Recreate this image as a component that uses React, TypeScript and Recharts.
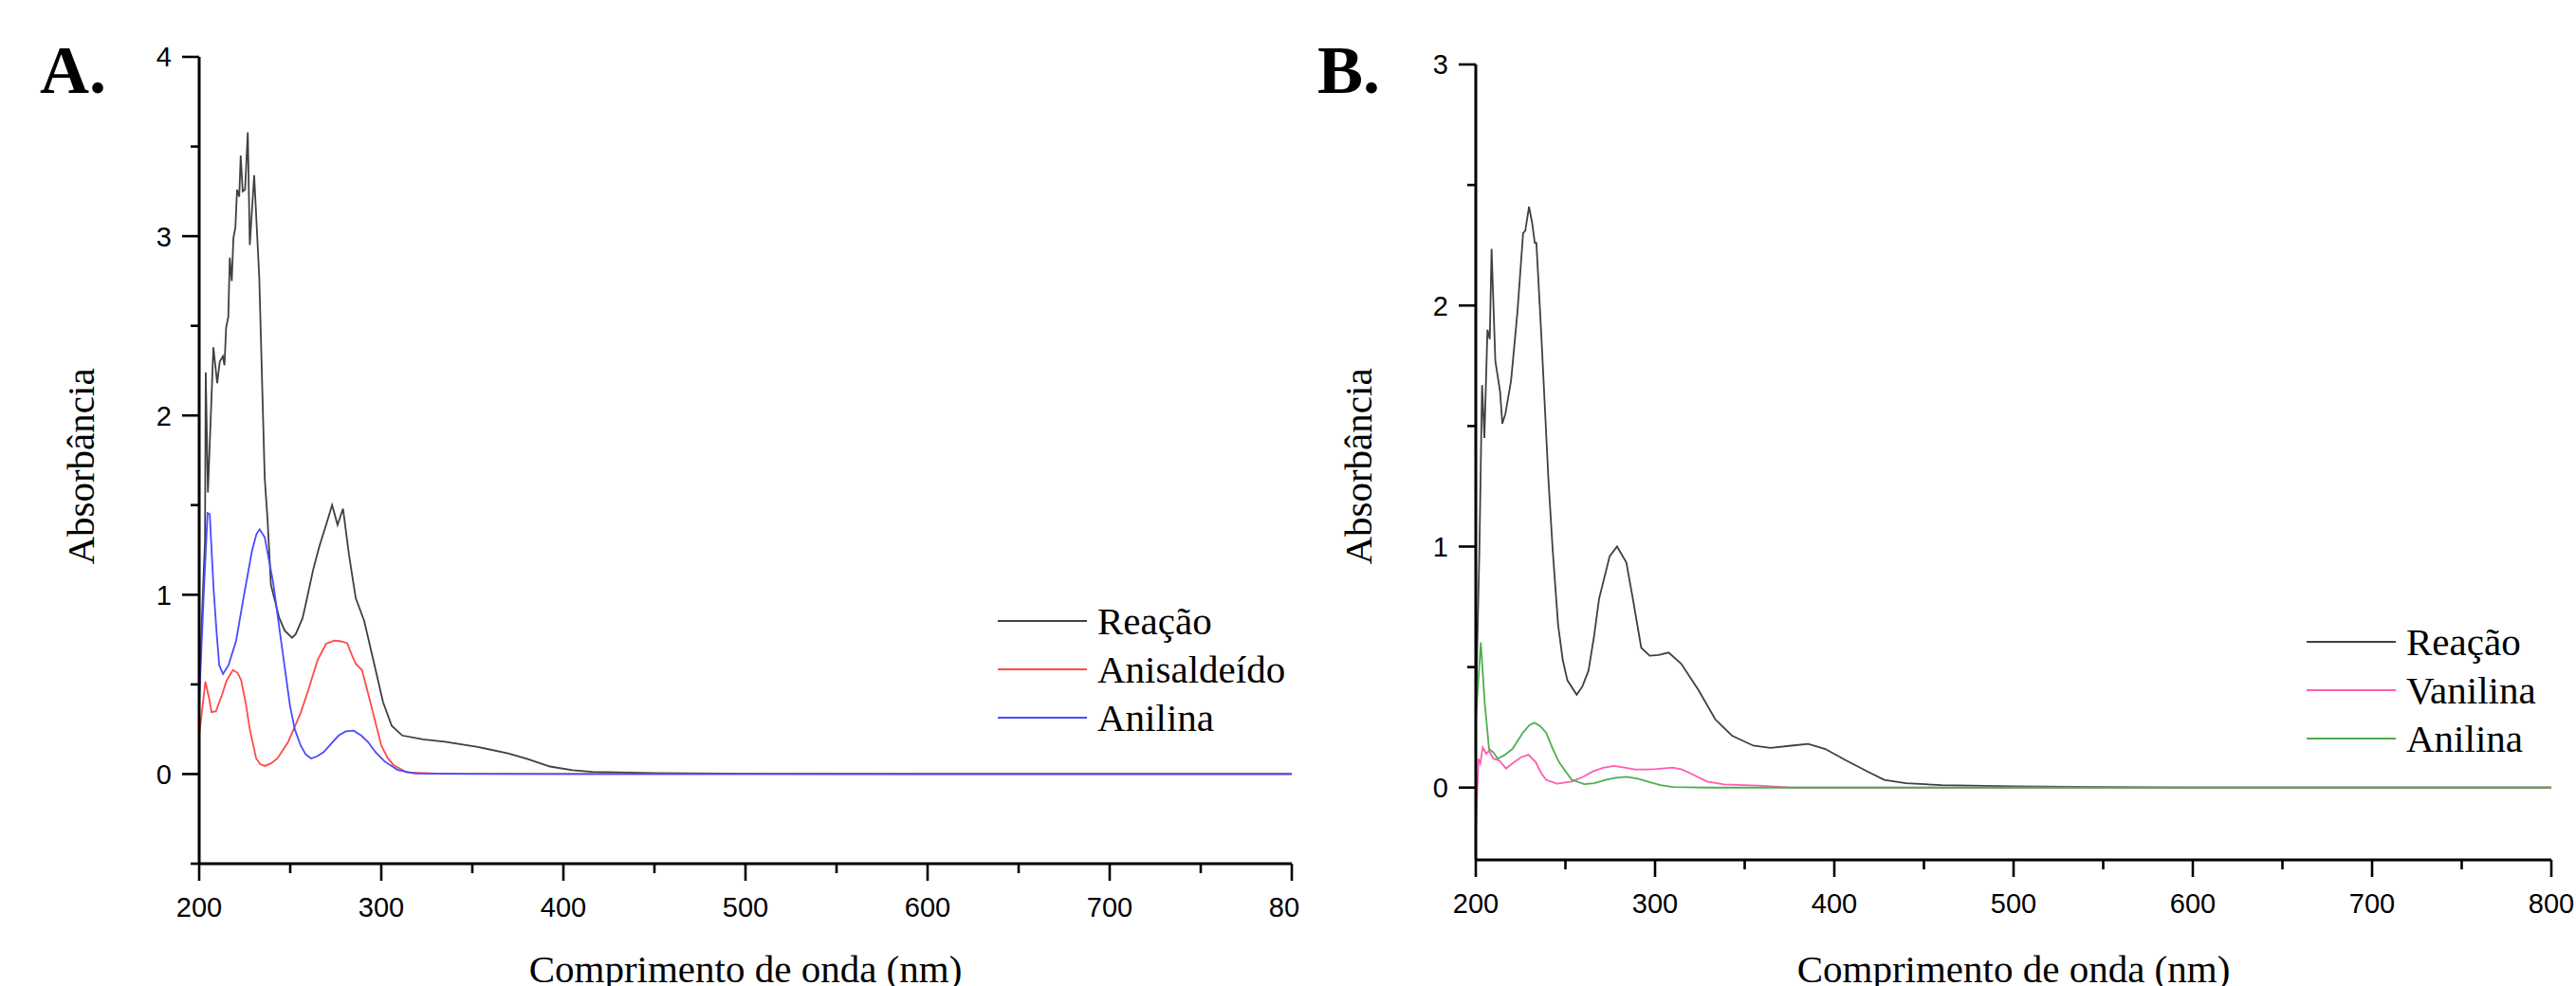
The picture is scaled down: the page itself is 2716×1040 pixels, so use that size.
import React from "react";
import { LineChart, Line, XAxis, YAxis, Legend } from "recharts";

const SANS = '"Liberation Sans", Arial, sans-serif';
const SERIF = '"Liberation Serif", "Times New Roman", serif';

// wavelength (nm), absorbance
const reacaoA: [number, number][] = [
  [200, 0.45], [202, 1.0], [203.2, 1.3], [203.6, 2.24], [204.8, 1.57], [207.8, 2.38],
  [209.9, 2.18], [211.3, 2.3], [213, 2.33], [213.9, 2.28], [214.8, 2.49], [216, 2.55],
  [216.8, 2.88], [217.9, 2.75], [218.8, 2.99], [219.9, 3.05], [220.8, 3.26], [222, 3.22],
  [222.8, 3.45], [223.9, 3.25], [225.2, 3.26], [226.7, 3.58], [227.8, 2.95], [230.2, 3.34],
  [233, 2.77], [236, 1.65], [237.6, 1.41], [239.4, 1.055], [244, 0.87], [247, 0.8],
  [251, 0.76], [253, 0.78], [256.8, 0.87], [259, 0.97], [262.6, 1.14], [266, 1.27],
  [270, 1.4], [273, 1.5], [276, 1.39], [279, 1.48], [282.3, 1.22], [286, 0.98],
  [290.6, 0.855], [295.3, 0.65], [301, 0.4], [305.7, 0.27], [311.5, 0.215], [323, 0.193],
  [335, 0.18], [353, 0.151], [369.6, 0.115], [380, 0.085], [392.7, 0.042], [405, 0.022],
  [416, 0.012], [450, 0.005], [500, 0.002], [600, 0], [700, 0], [800, 0],
];

const anisaldeidoA: [number, number][] = [
  [200, 0.215], [203.4, 0.515], [205.5, 0.42], [206.8, 0.345], [209.2, 0.35], [211, 0.4],
  [212.5, 0.44], [215, 0.52], [218.5, 0.58], [221, 0.565], [223, 0.525], [225.5, 0.4],
  [227.8, 0.25], [231.3, 0.087], [233.5, 0.055], [236, 0.045], [239.5, 0.06], [243, 0.087],
  [248.8, 0.178], [255.7, 0.34], [260, 0.47], [265, 0.635], [269.7, 0.727], [274.3, 0.745],
  [278, 0.74], [281.3, 0.73], [284, 0.66], [286, 0.615], [289.4, 0.58], [292, 0.48],
  [295, 0.36], [300, 0.16], [303.5, 0.09], [306.8, 0.05], [313.8, 0.01], [330, 0.003],
  [400, 0], [500, 0], [600, 0], [700, 0], [800, 0],
];

const anilinaA: [number, number][] = [
  [200, 0.4], [202.5, 1.0], [204.6, 1.456], [205.8, 1.45], [207.9, 1.036], [209.5, 0.8],
  [211, 0.607], [213.1, 0.558], [216.1, 0.607], [220.3, 0.744], [224.3, 0.98], [229, 1.245],
  [231.5, 1.34], [233.2, 1.365], [236, 1.32], [240.6, 1.07], [245.2, 0.726], [249.9, 0.38],
  [252.5, 0.25], [255.7, 0.16], [258.5, 0.11], [261.5, 0.087], [265, 0.1], [268.5, 0.124],
  [272.5, 0.17], [276.6, 0.215], [280.5, 0.238], [284.8, 0.242], [289, 0.215], [292.8, 0.178],
  [297, 0.12], [302, 0.069], [309, 0.023], [318.5, 0.003], [350, 0], [400, 0],
  [500, 0], [600, 0], [700, 0], [800, 0],
];

const reacaoB: [number, number][] = [
  [200, 0.3], [201, 0.65], [202, 0.98], [203.5, 1.67], [204.8, 1.45], [206.5, 1.9],
  [207.8, 1.86], [208.8, 2.235], [210.9, 1.77], [213.6, 1.64], [214.8, 1.51], [216.5, 1.55],
  [219.7, 1.69], [223.2, 1.97], [226.4, 2.3], [227.6, 2.31], [229.7, 2.41], [231.5, 2.34],
  [232.9, 2.26], [233.8, 2.26], [236.4, 1.9], [240.5, 1.28], [242.9, 0.985], [245.9, 0.676],
  [248.5, 0.53], [251.1, 0.445], [256.3, 0.385], [259.5, 0.42], [262.9, 0.486], [266, 0.63],
  [268.8, 0.784], [274.7, 0.96], [278.8, 1.0], [284, 0.934], [287.6, 0.784], [292.3, 0.58],
  [297, 0.547], [302, 0.55], [307.6, 0.56], [314.7, 0.513], [324.2, 0.405], [333.6, 0.283],
  [343, 0.215], [354.8, 0.174], [364.3, 0.165], [376, 0.174], [385.4, 0.181], [395, 0.16],
  [406.5, 0.113], [418.5, 0.067], [427.9, 0.032], [440, 0.018], [460, 0.01], [500, 0.005],
  [550, 0.002], [600, 0], [700, 0], [800, 0],
];

const vanilinaB: [number, number][] = [
  [200, -0.178], [201.5, 0.12], [202.5, 0.1], [203.9, 0.167], [205.8, 0.14], [207.4, 0.153],
  [209.8, 0.12], [213.2, 0.112], [216.9, 0.079], [220.4, 0.1], [225.2, 0.126], [229.4, 0.136],
  [233.4, 0.106], [236.5, 0.06], [239.2, 0.032], [245.3, 0.016], [253.5, 0.025], [260, 0.045],
  [265.3, 0.067], [271, 0.082], [277.1, 0.09], [283, 0.083], [288.9, 0.075], [295, 0.075],
  [300.8, 0.077], [310, 0.083], [315, 0.075], [319.5, 0.06], [329, 0.025], [338.5, 0.013],
  [357.3, 0.008], [376, 0], [400, 0], [500, 0], [600, 0], [700, 0], [800, 0],
];

const anilinaB: [number, number][] = [
  [200, 0.28], [202.8, 0.602], [205, 0.35], [207.4, 0.16], [209.8, 0.146], [212.2, 0.12],
  [215.7, 0.133], [220.4, 0.16], [226.3, 0.228], [230, 0.26], [232.7, 0.269], [236, 0.255],
  [239.2, 0.228], [243, 0.16], [246.4, 0.106], [253.5, 0.032], [260.6, 0.014], [266, 0.018],
  [272.4, 0.032], [278, 0.041], [284, 0.045], [290, 0.038], [295.9, 0.025], [303, 0.01],
  [310, 0.002], [330, 0], [400, 0], [500, 0], [600, 0], [700, 0], [800, 0],
];

const xTicks = [200, 250, 300, 350, 400, 450, 500, 550, 600, 650, 700, 750, 800];
const yTicksA = [-0.5, 0, 0.5, 1, 1.5, 2, 2.5, 3, 3.5, 4];
const yTicksB = [0, 0.5, 1, 1.5, 2, 2.5, 3];

const xTitle = "Comprimento de onda (nm)";
const yTitle = "Absorbância";

const rows = (pts: [number, number][]) => pts.map(([x, y]) => ({ x, y }));

const XTick = ({ x, y, payload }: any) => {
  const major = payload.value % 100 === 0;
  return (
    <g>
      <line x1={x} y1={y} x2={x} y2={y + (major ? 18 : 10)} stroke="#000" strokeWidth={2.6} />
      {major && (
        <text x={x} y={y + 56} textAnchor="middle" fontFamily={SANS} fontSize={29} fill="#000">
          {payload.value}
        </text>
      )}
    </g>
  );
};

const YTick = ({ x, y, payload }: any) => {
  const major = Number.isInteger(payload.value);
  return (
    <g>
      <line x1={x} y1={y} x2={x - (major ? 18 : 9)} y2={y} stroke="#000" strokeWidth={2.6} />
      {major && (
        <text x={x - 29} y={y} dy="0.36em" textAnchor="end" fontFamily={SANS} fontSize={29} fill="#000">
          {payload.value}
        </text>
      )}
    </g>
  );
};

type Series = { name: string; color: string; points: [number, number][] };

// legend keeps the series order (recharts would sort it by name)
const renderLegend = (series: Series[]) => (
  <svg width={330} height={170}>
    {series.map((s, i) => {
      const ly = 36 + i * 51;
      return (
        <g key={s.name}>
          <line x1={12} y1={ly} x2={106} y2={ly} stroke={s.color} strokeWidth={2} />
          <text x={117} y={ly + 14} fontFamily={SERIF} fontSize={41} fill="#000">
            {s.name}
          </text>
        </g>
      );
    })}
  </svg>
);

const Panel = ({
  width,
  margin,
  letter,
  letterX,
  yTitleX,
  xTitleX,
  yDomain,
  yTicks,
  series,
  legendPos,
}: {
  width: number;
  margin: { top: number; right: number; bottom: number; left: number };
  letter: string;
  letterX: number;
  yTitleX: number;
  xTitleX: number;
  yDomain: [number, number];
  yTicks: number[];
  series: Series[];
  legendPos: { left: number; top: number };
}) => (
  <LineChart width={width} height={1040} margin={margin}>
    <XAxis
      dataKey="x"
      type="number"
      domain={[200, 800]}
      ticks={xTicks}
      interval={0}
      height={60}
      tickSize={0}
      tickMargin={0}
      tickLine={false}
      axisLine={{ stroke: "#000", strokeWidth: 3 }}
      tick={(p: any) => <XTick {...p} />}
      label={{
        content: () => (
          <text x={xTitleX} y={1036} textAnchor="middle" fontFamily={SERIF} fontSize={41} fill="#000">
            {xTitle}
          </text>
        ),
      }}
    />
    <YAxis
      type="number"
      domain={yDomain}
      ticks={yTicks}
      interval={0}
      width={100}
      allowDataOverflow
      tickSize={0}
      tickMargin={0}
      tickLine={false}
      axisLine={{ stroke: "#000", strokeWidth: 3 }}
      tick={(p: any) => <YTick {...p} />}
      label={{
        content: () => (
          <g>
            <text x={letterX} y={98} fontFamily={SERIF} fontWeight="bold" fontSize={72} fill="#000">
              {letter}
            </text>
            <text
              x={yTitleX}
              y={492}
              transform={`rotate(-90 ${yTitleX} 492)`}
              textAnchor="middle"
              fontFamily={SERIF}
              fontSize={41}
              fill="#000"
            >
              {yTitle}
            </text>
          </g>
        ),
      }}
    />
    <Legend
      layout="horizontal"
      align="center"
      verticalAlign="middle"
      content={() => renderLegend(series)}
      wrapperStyle={{ left: legendPos.left, top: legendPos.top, width: 330, height: 170 }}
    />
    {series.map((s) => (
      <Line
        key={s.name}
        name={s.name}
        data={rows(s.points)}
        dataKey="y"
        type="linear"
        stroke={s.color}
        strokeWidth={1.8}
        dot={false}
        activeDot={false}
        isAnimationActive={false}
      />
    ))}
  </LineChart>
);

export default function App() {
  return (
    <div
      style={{
        position: "absolute",
        left: 0,
        top: 0,
        width: 2716,
        height: 1040,
        overflow: "hidden",
        background: "#fff",
      }}
    >
      <div style={{ position: "absolute", left: 0, top: 0, width: 1371, height: 1040, overflow: "hidden" }}>
        <Panel
          width={1420}
          margin={{ top: 60, right: 58, bottom: 69, left: 110 }}
          letter="A."
          letterX={42}
          yTitleX={99}
          xTitleX={786}
          yDomain={[-0.5, 4]}
          yTicks={yTicksA}
          legendPos={{ left: 1040, top: 619 }}
          series={[
            { name: "Reação", color: "#404040", points: reacaoA },
            { name: "Anisaldeído", color: "#ff4a4a", points: anisaldeidoA },
            { name: "Anilina", color: "#4a4aff", points: anilinaA },
          ]}
        />
      </div>
      <div style={{ position: "absolute", left: 1380, top: 0, width: 1336, height: 1040, overflow: "hidden" }}>
        <Panel
          width={1336}
          margin={{ top: 68, right: 26, bottom: 73, left: 76 }}
          letter="B."
          letterX={9}
          yTitleX={66}
          xTitleX={743}
          yDomain={[-0.3, 3]}
          yTicks={yTicksB}
          legendPos={{ left: 1040, top: 641 }}
          series={[
            { name: "Reação", color: "#404040", points: reacaoB },
            { name: "Vanilina", color: "#ff5cb0", points: vanilinaB },
            { name: "Anilina", color: "#4caf50", points: anilinaB },
          ]}
        />
      </div>
    </div>
  );
}
